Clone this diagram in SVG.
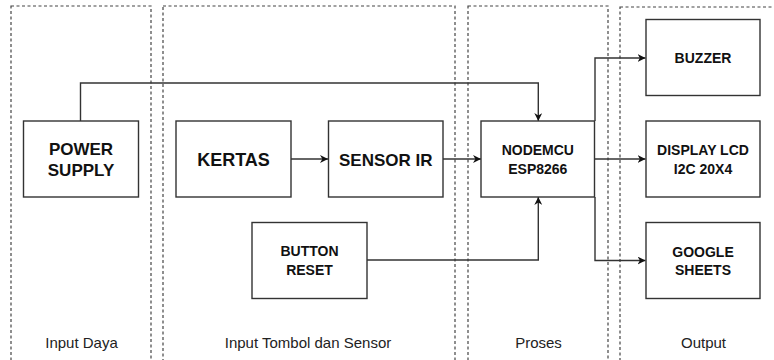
<svg xmlns="http://www.w3.org/2000/svg" width="774" height="360" viewBox="0 0 774 360">
<style>
.lane{fill:none;stroke:#444;stroke-width:1.2;stroke-dasharray:3 2.5}
.box{fill:#fff;stroke:#333;stroke-width:1.4}
.edge{fill:none;stroke:#333;stroke-width:1.4}
.t{font-family:"Liberation Sans",Arial,sans-serif;font-weight:bold;fill:#111;text-anchor:middle}
.lbl{font-family:"Liberation Sans",Arial,sans-serif;font-size:15px;fill:#222;text-anchor:middle}
</style>
<defs>
<marker id="arr" viewBox="0 0 10 10" refX="10" refY="5" markerWidth="8" markerHeight="8" markerUnits="userSpaceOnUse" orient="auto">
<path d="M0,0 L10,5 L0,10 L3,5 Z" fill="#111"/>
</marker>
</defs>
<rect width="774" height="360" fill="#fff"/>
<g id="lanes">
<rect class="lane" x="11" y="6" width="140" height="370"/>
<rect class="lane" x="163" y="6" width="292" height="370"/>
<rect class="lane" x="468" y="6" width="140" height="370"/>
<rect class="lane" x="620" y="7" width="170" height="370"/>
<text class="lbl" x="81.5" y="348">Input Daya</text>
<text class="lbl" x="308" y="348">Input Tombol dan Sensor</text>
<text class="lbl" x="538.5" y="348">Proses</text>
<text class="lbl" x="703.5" y="348">Output</text>
</g>
<g id="connectors">
<path class="edge" d="M80.5,121 V83 H538.3 V121" marker-end="url(#arr)"/>
<path class="edge" d="M291,159 H328" marker-end="url(#arr)"/>
<path class="edge" d="M443,159 H481" marker-end="url(#arr)"/>
<path class="edge" d="M367,260 H538.3 V197" marker-end="url(#arr)"/>
<path class="edge" d="M595,121 V58 H645.5" marker-end="url(#arr)"/>
<path class="edge" d="M594,159 H645.5" marker-end="url(#arr)"/>
<path class="edge" d="M595,197 V260.5 H645.5" marker-end="url(#arr)"/>
</g>
<g id="power-supply">
<rect class="box" x="23.5" y="121" width="115" height="76"/>
<text class="t" x="81" y="155" font-size="17">POWER</text>
<text class="t" x="81" y="175.5" font-size="17">SUPPLY</text>
</g>
<g id="kertas">
<rect class="box" x="176" y="121" width="115" height="76"/>
<text class="t" x="233.5" y="166" font-size="18">KERTAS</text>
</g>
<g id="sensor-ir">
<rect class="box" x="328.5" y="121" width="114.5" height="76"/>
<text class="t" x="385.8" y="166" font-size="17">SENSOR IR</text>
</g>
<g id="button-reset">
<rect class="box" x="252" y="222.5" width="115" height="76"/>
<text class="t" x="309.5" y="256" font-size="14">BUTTON</text>
<text class="t" x="309.5" y="275" font-size="14">RESET</text>
</g>
<g id="nodemcu">
<rect class="box" x="481" y="121" width="113.5" height="76"/>
<text class="t" x="537.8" y="155" font-size="14">NODEMCU</text>
<text class="t" x="537.8" y="173.5" font-size="14">ESP8266</text>
</g>
<g id="buzzer">
<rect class="box" x="646" y="19.5" width="114" height="76"/>
<text class="t" x="703" y="62.5" font-size="14">BUZZER</text>
</g>
<g id="display-lcd">
<rect class="box" x="646" y="121" width="114" height="76"/>
<text class="t" x="703" y="155" font-size="14">DISPLAY LCD</text>
<text class="t" x="703" y="173.5" font-size="14">I2C 20X4</text>
</g>
<g id="google-sheets">
<rect class="box" x="646" y="222.5" width="114" height="76"/>
<text class="t" x="703" y="256.5" font-size="14">GOOGLE</text>
<text class="t" x="703" y="275" font-size="14">SHEETS</text>
</g>
</svg>
